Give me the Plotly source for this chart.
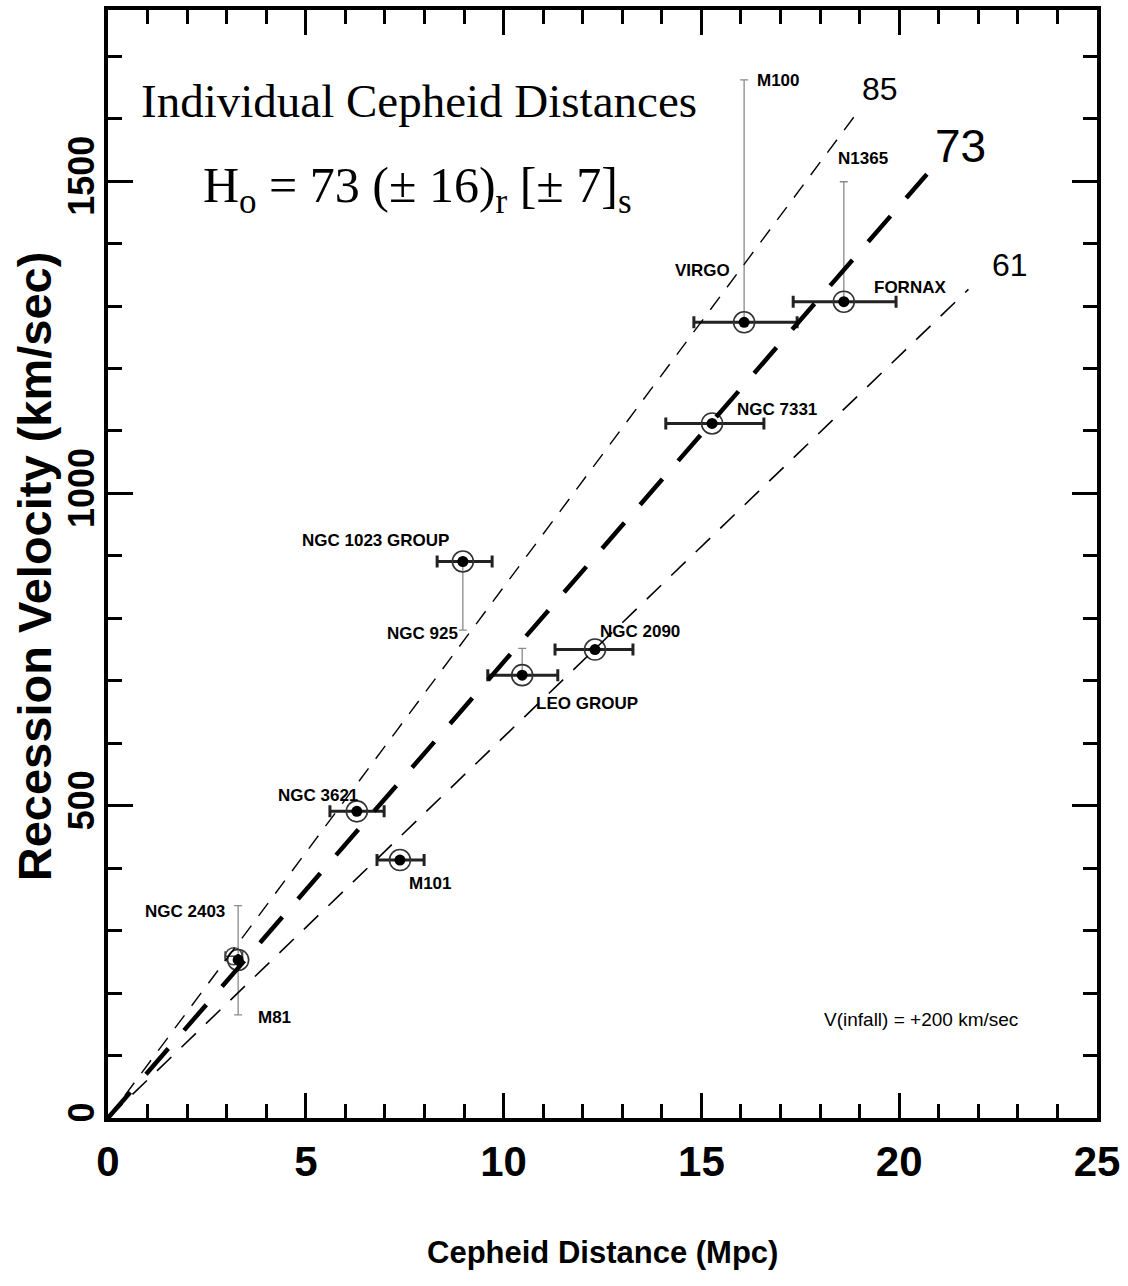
import plotly.graph_objects as go

# Galaxies / groups with Cepheid distances (Mpc) and recession velocities (km/s)
galaxy_names = ["M81", "NGC 3621", "M101", "NGC 1023 GROUP", "LEO GROUP",
                "NGC 2090", "NGC 7331", "VIRGO", "FORNAX"]
distance_mpc = [3.29, 6.29, 7.38, 8.97, 10.47, 12.31, 15.27, 16.08, 18.60]
velocity_kms = [253, 491, 413, 891, 709, 750, 1112, 1274, 1307]
dist_err_minus = [0.0, 0.68, 0.58, 0.65, 0.87, 1.01, 1.17, 1.27, 1.28]
dist_err_plus = [0.0, 0.69, 0.61, 0.74, 0.90, 0.96, 1.31, 1.34, 1.32]

# Velocity spread to individual members (M100, N1365, NGC 925, ...)
vel_span_plus = [87, 0, 0, 0, 43, 0, 0, 388, 192]
vel_span_minus = [88, 0, 0, 110, 0, 0, 0, 0, 0]

# NGC 2403 (open symbol next to M81)
ngc2403_dist = [3.18]
ngc2403_vel = [259]
ngc2403_err = [0.22]

# Hubble lines: H0 values and where each line stops (Mpc)
hubble_values = [85, 73, 61]
hubble_extent = [18.85, 20.7, 21.75]
hubble_widths = [1.4, 4.5, 1.6]
hubble_dashes = ["16px,12px", "34px,24px", "20px,14px"]

x_ticks = [0, 5, 10, 15, 20, 25]
y_ticks = [0, 500, 1000, 1500]

SANS = "Liberation Sans, Arial, sans-serif"
SERIF = "Liberation Serif, Times New Roman, serif"

fig = go.Figure()

# vertical spans (thin grey) and horizontal distance errors (thick)
fig.add_trace(go.Scatter(
    x=distance_mpc, y=velocity_kms, mode="markers",
    marker=dict(size=1, color="rgba(0,0,0,0)"),
    error_y=dict(type="data", symmetric=False, array=vel_span_plus,
                 arrayminus=vel_span_minus, color="#8a8a8a",
                 thickness=1.3, width=4),
    showlegend=False, hoverinfo="skip"))
fig.add_trace(go.Scatter(
    x=distance_mpc, y=velocity_kms, mode="markers",
    marker=dict(size=1, color="rgba(0,0,0,0)"),
    error_x=dict(type="data", symmetric=False, array=dist_err_plus,
                 arrayminus=dist_err_minus, color="#222222",
                 thickness=3, width=6),
    showlegend=False, hoverinfo="skip"))
fig.add_trace(go.Scatter(
    x=ngc2403_dist, y=ngc2403_vel, mode="markers",
    marker=dict(symbol="circle-open", size=17, color="#444444",
                line=dict(width=1.6)),
    error_x=dict(type="data", array=ngc2403_err, color="#444444",
                 thickness=1.6, width=5),
    showlegend=False, hoverinfo="skip"))

# ringed dots
fig.add_trace(go.Scatter(
    x=distance_mpc, y=velocity_kms, mode="markers",
    marker=dict(symbol="circle-open", size=21, color="#333333",
                line=dict(width=1.6)),
    showlegend=False, hoverinfo="skip"))
fig.add_trace(go.Scatter(
    x=distance_mpc, y=velocity_kms, mode="markers",
    marker=dict(symbol="circle", size=11, color="black"),
    showlegend=False, hoverinfo="skip"))

# Hubble-law lines v = H0 * d
for h0, dmax, lw, dash in zip(hubble_values, hubble_extent, hubble_widths, hubble_dashes):
    fig.add_trace(go.Scatter(
        x=[0, dmax], y=[0, h0 * dmax], mode="lines",
        line=dict(color="black", width=lw, dash=dash),
        showlegend=False, hoverinfo="skip"))

annotations = []


def note(text, x, y, size, family=SANS, xanchor="center", bold=False,
         ref="x", angle=0):
    if bold:
        text = "<b>" + text + "</b>"
    annotations.append(dict(text=text, x=x, y=y,
                            xref=ref if ref == "paper" else "x",
                            yref=ref if ref == "paper" else "y",
                            showarrow=False, xanchor=xanchor, yanchor="middle",
                            textangle=angle,
                            font=dict(family=family, size=size, color="black")))


# galaxy labels
note("M100", 16.94, 1661, 17, bold=True)
note("N1365", 19.08, 1537, 17, bold=True)
note("VIRGO", 15.04, 1357, 17, bold=True)
note("FORNAX", 20.27, 1330, 17, bold=True)
note("NGC 7331", 16.91, 1135, 17, bold=True)
note("NGC 1023 GROUP", 6.75, 925, 17, bold=True)
note("NGC 925", 7.94, 776, 17, bold=True)
note("NGC 2090", 13.45, 779, 17, bold=True)
note("LEO GROUP", 12.11, 664, 17, bold=True)
note("NGC 3621", 5.31, 517, 17, bold=True)
note("M101", 8.16, 375, 17, bold=True)
note("NGC 2403", 1.95, 330, 17, bold=True)
note("M81", 4.2, 161, 17, bold=True)
note("V(infall) = +200 km/sec", 20.55, 158, 19)

# line labels
note("85", 19.51, 1648, 32)
note("73", 21.55, 1557, 46)
note("61", 22.8, 1365, 32)

# headline text
note("Individual Cepheid Distances", 7.85, 1628, 47, family=SERIF)
note("H<sub>o</sub> = 73 (± 16)<sub>r</sub> [± 7]<sub>s</sub>", 7.82, 1488, 50,
     family=SERIF)

# axis titles
note("Recession Velocity (km/sec)", -0.0748, 0.498, 47, bold=True,
     ref="paper", angle=-90)
note("Cepheid Distance (Mpc)", 0.4995, -0.1218, 31, bold=True, ref="paper")

fig.update_layout(
    width=1128, height=1286,
    margin=dict(l=108, r=31, t=10, b=168),
    paper_bgcolor="white", plot_bgcolor="white",
    annotations=annotations,
    xaxis=dict(
        range=[0, 25], tickvals=x_ticks, ticks="inside", ticklen=25,
        tickwidth=3, tickcolor="black", showline=True, linewidth=4,
        linecolor="black", mirror="allticks", showgrid=False, zeroline=False,
        automargin=False,
        minor=dict(dtick=1, ticks="inside", ticklen=14, tickwidth=3,
                   tickcolor="black", showgrid=False),
        tickfont=dict(family=SANS, size=42, color="black", weight="bold"),
        ticklabelstandoff=4,
    ),
    yaxis=dict(
        range=[0, 1774], tickvals=y_ticks, ticks="inside", ticklen=25,
        tickwidth=3, tickcolor="black", showline=True, linewidth=4,
        linecolor="black", mirror="allticks", showgrid=False, zeroline=False,
        automargin=False,
        minor=dict(dtick=100, ticks="inside", ticklen=14, tickwidth=3,
                   tickcolor="black", showgrid=False),
        tickangle=-90,
        tickfont=dict(family=SANS, size=36, color="black", weight="bold"),
        ticklabelstandoff=-4,
    ),
)

fig.write_html("out.html")
